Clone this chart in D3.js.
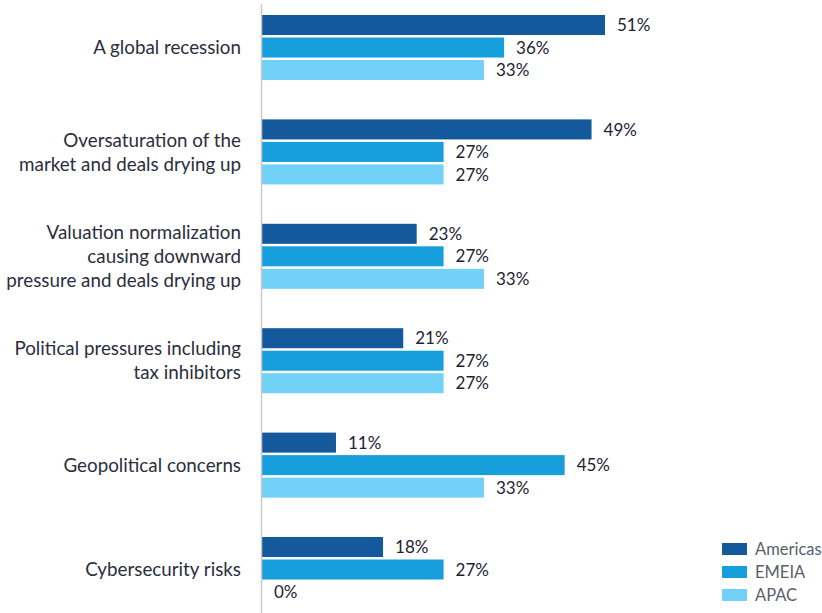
<!DOCTYPE html>
<html>
<head>
<meta charset="utf-8">
<script src="https://cdn.jsdelivr.net/npm/d3@7"></script>
<style>
  body { margin: 0; background: #fff; }
  #svgDiv { width: 822px; height: 613px; }
  text { font-family: Lato, "Open Sans", sans-serif; }
</style>
</head>
<body>
<div id="svgDiv"></div>
<script>
//chart data
var categories = [
    ["A global recession"],
    ["Oversaturation of the", "market and deals drying up"],
    ["Valuation normalization", "causing downward", "pressure and deals drying up"],
    ["Political pressures including", "tax inhibitors"],
    ["Geopolitical concerns"],
    ["Cybersecurity risks"]
];
var seriesNames = ["Americas", "EMEIA", "APAC"];
var americas = [51, 49, 23, 21, 11, 18];
var emeia = [36, 27, 27, 27, 45, 27];
var apac = [33, 27, 33, 27, 33, 0];
var colors = ["#14599c", "#179fdb", "#72d1f6"];

var svg, svgWidth, svgHeight;

document.addEventListener('DOMContentLoaded', function(){
    var svgDiv = document.getElementById("svgDiv");
    svgWidth = svgDiv.offsetWidth;
    svgHeight = svgDiv.offsetHeight;

    svg = d3.select("#svgDiv")
        .append("svg")
        .attr("width", svgWidth)
        .attr("height", svgHeight);

    drawChart();
});

function drawChart(){
    var allSeries = [americas, emeia, apac];
    var keys = categories.map(function(c, i){ return i; });

    //build rows: one per category with 3 values
    var rows = keys.map(function(i){
        return seriesNames.map(function(s, j){
            return {cat: i, series: j, value: allSeries[j][i]};
        });
    });

    var x = d3.scaleLinear()
        .domain([0, 51])
        .range([262, 605]);

    var pInner = 0.377;
    var step = 104.4;
    var y0 = d3.scaleBand()
        .domain(keys)
        .range([15, 15 + step * (keys.length - pInner)])
        .paddingInner(pInner)
        .paddingOuter(0);

    var y1 = d3.scaleBand()
        .domain(d3.range(seriesNames.length))
        .range([0, y0.bandwidth()])
        .paddingInner(0.11);

    var groups = svg.selectAll("g.group")
        .data(rows)
        .enter().append("g")
        .attr("class", "group")
        .attr("transform", function(d, i){ return "translate(0," + y0(i) + ")"; });

    groups.selectAll("rect")
        .data(function(d){ return d; })
        .enter().append("rect")
        .attr("x", x(0))
        .attr("y", function(d){ return y1(d.series); })
        .attr("width", function(d){ return x(d.value) - x(0); })
        .attr("height", y1.bandwidth())
        .attr("fill", function(d){ return colors[d.series]; });

    groups.selectAll("text.val")
        .data(function(d){ return d; })
        .enter().append("text")
        .attr("class", "val")
        .attr("x", function(d){ return x(d.value) + 12; })
        .attr("y", function(d){ return y1(d.series) + y1.bandwidth() / 2; })
        .attr("dy", "0.36em")
        .attr("font-size", "17px")
        .attr("fill", "#1e2235")
        .text(function(d){ return d.value + "%"; });

    //category labels, multi-line, centred on group
    var lineH = 24;
    groups.append("text")
        .attr("class", "cat")
        .attr("text-anchor", "end")
        .attr("font-size", "18.8px")
        .attr("fill", "#2b2e3d")
        .each(function(d, i){
            var lines = categories[i];
            var mid = y0.bandwidth() / 2 - (lines.length - 1) * lineH / 2;
            var t = d3.select(this);
            lines.forEach(function(l, k){
                t.append("tspan")
                    .attr("x", 241)
                    .attr("y", mid + k * lineH)
                    .attr("dy", "0.36em")
                    .text(l);
            });
        });

    //vertical axis line
    svg.append("line")
        .attr("x1", x(0) - 0.5)
        .attr("x2", x(0) - 0.5)
        .attr("y1", 4)
        .attr("y2", svgHeight)
        .attr("stroke", "#c9c9c9")
        .attr("stroke-width", 1.5);

    //legend
    var legend = svg.selectAll("g.legend")
        .data(seriesNames)
        .enter().append("g")
        .attr("class", "legend")
        .attr("transform", function(d, i){ return "translate(722," + (543 + i * 23) + ")"; });

    legend.append("rect")
        .attr("width", 25)
        .attr("height", 12)
        .attr("fill", function(d, i){ return colors[i]; });

    legend.append("text")
        .attr("x", 33)
        .attr("y", 6)
        .attr("dy", "0.36em")
        .attr("font-size", "16.5px")
        .attr("fill", "#5b5f6b")
        .text(function(d){ return d; });
}
</script>
</body>
</html>
